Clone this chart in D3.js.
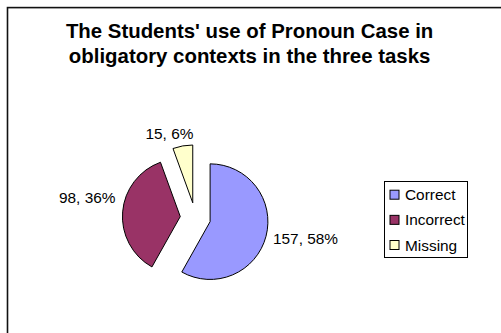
<!DOCTYPE html>
<html>
<head>
<meta charset="utf-8">
<script src="https://cdn.jsdelivr.net/npm/d3@7"></script>
<style>
  html, body { margin: 0; padding: 0; background: #fff; }
  svg { display: block; }
  text { font-family: "Liberation Sans", Arial, sans-serif; fill: #000; }
</style>
</head>
<body>
<svg id="chart" width="501" height="333"></svg>
<script>
// Chart content
const titleLines = ["The Students' use of Pronoun Case in", "obligatory contexts in the three tasks"];
const categories = ["Correct", "Incorrect", "Missing"];
const counts = [157, 98, 15];
const colors = ["#9999FF", "#993366", "#FFFFCC"];

// Layout
const pieCx = 195.4, pieCy = 217.8;  // pie centre before slices are pulled out
const radius = 57.8;
const explode = 15.2;
const labelGap = 7.2;
const labelFont = 15.4;
// small per-label nudges relative to the outside-end point
const labelNudge = { Incorrect: [0, -14], Missing: [-12, 0] };

const svg = d3.select("#chart");

// chart area frame (runs past the right/bottom edges)
svg.append("rect")
  .attr("x", 7.5).attr("y", 7.6)
  .attr("width", 600).attr("height", 400)
  .attr("fill", "#fff")
  .attr("stroke", "#111")
  .attr("stroke-width", 1.6);

// title
titleLines.forEach((t, i) => {
  svg.append("text")
    .attr("x", 249.6).attr("y", 38.4 + i * 24.4)
    .attr("text-anchor", "middle")
    .attr("font-weight", "bold")
    .attr("font-size", 20.4)
    .text(t);
});

// pie
const total = d3.sum(counts);
const rows = categories.map((c, i) => ({ name: c, value: counts[i], color: colors[i] }));
const pie = d3.pie().value(d => d.value).sort(null).startAngle(0).endAngle(2 * Math.PI);
const arc = d3.arc().innerRadius(0).outerRadius(radius);
const arcs = pie(rows);

const pieG = svg.append("g").attr("transform", `translate(${pieCx},${pieCy})`);

arcs.forEach(a => {
  a.mid = (a.startAngle + a.endAngle) / 2;
  a.ox = Math.sin(a.mid) * explode;
  a.oy = -Math.cos(a.mid) * explode;
  pieG.append("path")
    .attr("d", arc(a))
    .attr("transform", `translate(${a.ox},${a.oy})`)
    .attr("fill", a.data.color)
    .attr("stroke", "#000")
    .attr("stroke-width", 1);
});

// data labels: "value, percent" at the outside end of each slice
arcs.forEach(a => {
  const r = radius + labelGap;
  const sin = Math.sin(a.mid), cos = Math.cos(a.mid);
  const nudge = labelNudge[a.data.name] || [0, 0];
  const px = pieCx + a.ox + sin * r + nudge[0];
  const py = pieCy + a.oy - cos * r + nudge[1];
  const nearTop = Math.abs(sin) < 0.4;
  const anchor = nearTop ? "middle" : (sin > 0 ? "start" : "end");
  const baseline = nearTop ? py : py + labelFont * 0.36;
  const pct = Math.round(a.data.value / total * 100);
  svg.append("text")
    .attr("x", px).attr("y", baseline)
    .attr("text-anchor", anchor)
    .attr("font-size", labelFont)
    .text(`${a.data.value}, ${pct}%`);
});

// legend
const legend = svg.append("g").attr("transform", "translate(384.5,181.5)");
legend.append("rect")
  .attr("width", 83).attr("height", 76)
  .attr("fill", "#fff")
  .attr("stroke", "#000")
  .attr("stroke-width", 1);
const rowY = d3.scalePoint().domain(categories).range([13.2, 63.5]);
rows.forEach(d => {
  const cy = rowY(d.name);
  legend.append("rect")
    .attr("x", 5.5).attr("y", cy - 4.5)
    .attr("width", 9).attr("height", 9)
    .attr("fill", d.color)
    .attr("stroke", "#000")
    .attr("stroke-width", 1);
  legend.append("text")
    .attr("x", 20.5).attr("y", cy + 5.5)
    .attr("font-size", labelFont)
    .text(d.name);
});
</script>
</body>
</html>
